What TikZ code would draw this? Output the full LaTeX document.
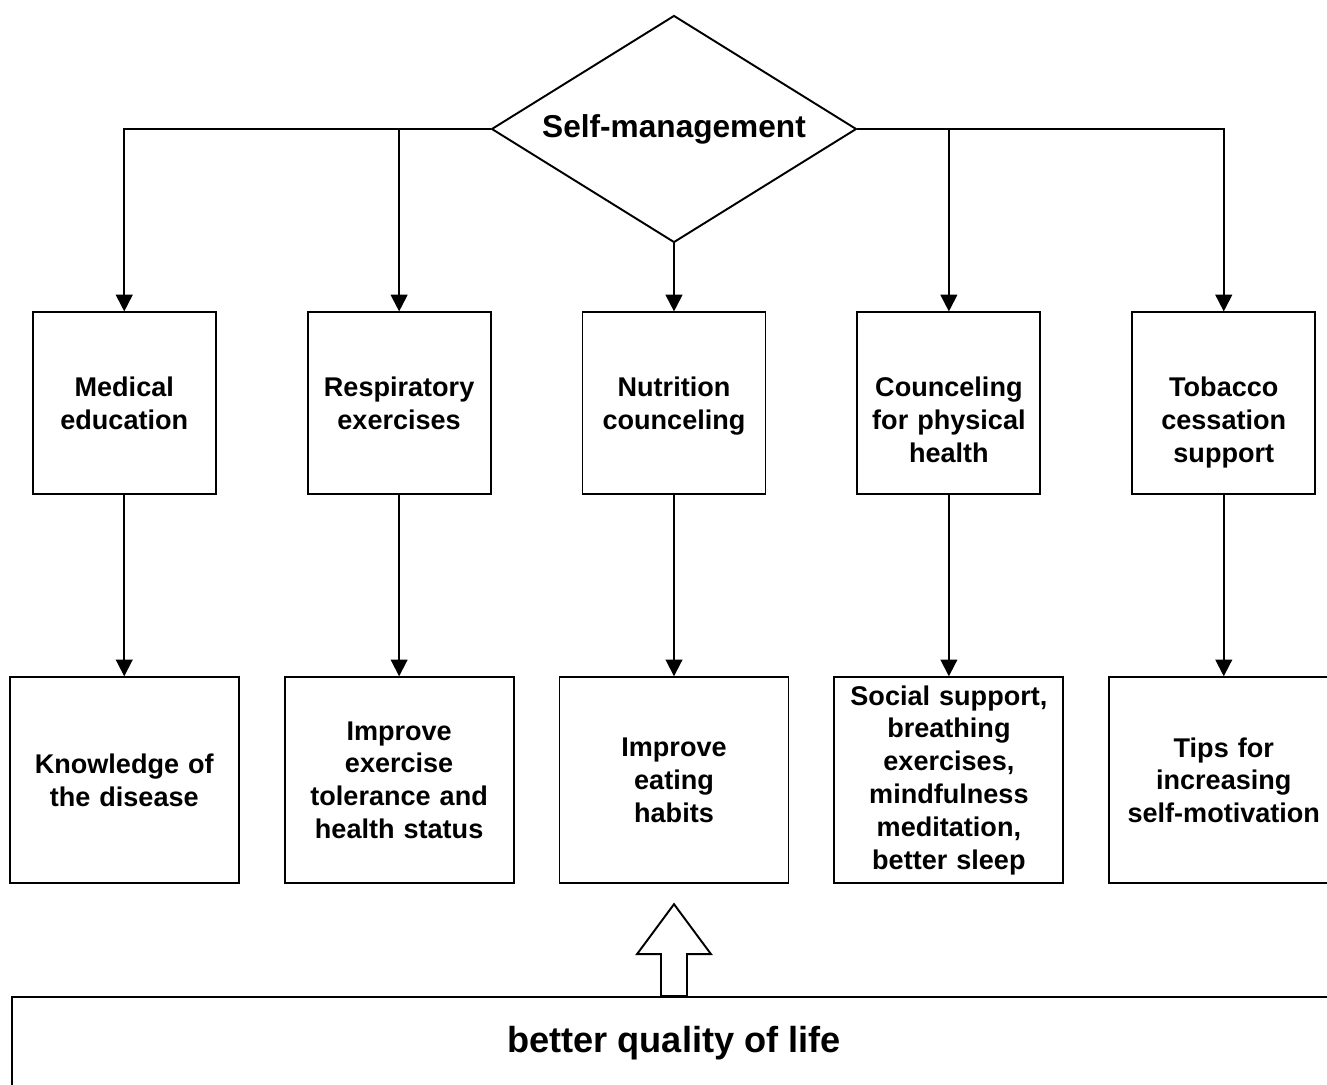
\documentclass[tikz,border=0pt]{standalone}
\usepackage{fontspec}
\setmainfont{Liberation Sans}
\usetikzlibrary{arrows.meta,positioning,shapes.geometric}

\tikzset{
  decision/.style={
    diamond,
    draw,
    aspect=1.6,
    line width=1.1pt,
    minimum width=7.3cm,
    minimum height=4.54cm,
    inner sep=0pt,
    font=\fontsize{18}{22}\selectfont\bfseries
  },
  topic/.style={
    draw,
    line width=1.1pt,
    minimum width=3.66cm,
    minimum height=3.64cm,
    inner sep=0pt,
    text width=3.4cm,
    align=center,
    text height=15pt,
    text depth=23pt,
    font=\fontsize{15.4}{18.7}\selectfont\bfseries
  },
  outcome/.style={
    draw,
    line width=1.1pt,
    minimum width=4.58cm,
    minimum height=4.12cm,
    inner sep=0pt,
    text width=4.3cm,
    align=center,
    font=\fontsize{15.4}{18.7}\selectfont\bfseries
  },
  result/.style={
    draw,
    line width=1.1pt,
    minimum width=26.48cm,
    minimum height=1.86cm,
    inner sep=0pt,
    font=\fontsize{20.6}{24}\selectfont\bfseries
  },
  arrow/.style={
    -{Triangle[length=9.5pt,width=9.5pt]},
    line width=1.1pt
  },
  hollow/.style={
    draw,
    fill=white,
    line width=1.1pt,
    line join=miter
  }
}

\begin{document}
\begin{tikzpicture}[x=0.02cm, y=-0.02cm, node distance=3.62cm and 1.8cm]

\useasboundingbox (0,0) rectangle (1327,1084);

\node[decision] (sm) at (674,129) {Self-management};

% first row
\node[topic, below=1.36cm of sm] (nutr) {Nutrition\\counceling};
\node[topic, left=of nutr] (resp) {Respiratory\\exercises};
\node[topic, left=of resp] (med) {Medical\\education};
\node[topic, right=of nutr] (coun) {Counceling\\for physical\\health};
\node[topic, right=of coun] (tob) {Tobacco\\cessation\\support};

% second row
\node[outcome, below=of med] (know) {Knowledge of\\the disease};
\node[outcome, below=of resp] (tol) {Improve\\exercise\\tolerance and\\health status};
\node[outcome, below=of nutr] (eat) {Improve\\eating\\habits};
\node[outcome, below=of coun] (soc) {Social support,\\breathing\\exercises,\\mindfulness\\meditation,\\better sleep};
\node[outcome, below=of tob] (tips) {Tips for\\increasing\\self-motivation};

\node[result, below=2.24cm of eat] (life) {better quality of life};

\draw[arrow] (sm.west) -| (med.north);
\draw[arrow] (sm.west) -| (resp.north);
\draw[arrow] (sm.south) -- (nutr.north);
\draw[arrow] (sm.east) -| (coun.north);
\draw[arrow] (sm.east) -| (tob.north);

\draw[arrow] (med) -- (know);
\draw[arrow] (resp) -- (tol);
\draw[arrow] (nutr) -- (eat);
\draw[arrow] (coun) -- (soc);
\draw[arrow] (tob) -- (tips);

% open arrow up from the result bar
\draw[hollow] (life.north) ++(-13,0) -- ++(0,-42) -- ++(-24,0) -- ++(37,-50)
  -- ++(37,50) -- ++(-24,0) -- ++(0,42) -- cycle;

\end{tikzpicture}
\end{document}
